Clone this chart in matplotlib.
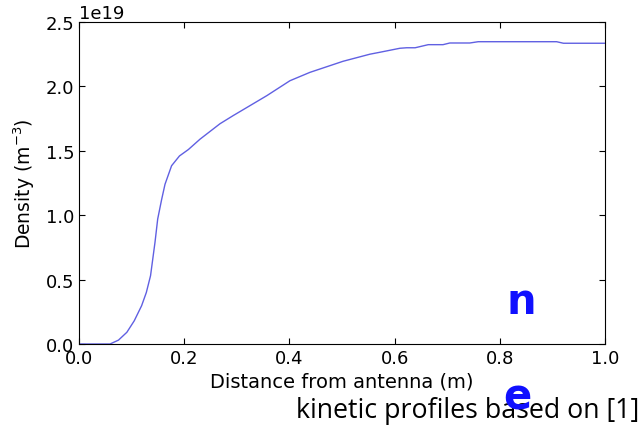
import numpy as np
import matplotlib.pyplot as plt

# distancia desde la antena (m) y densidad (m^-3)
dist = [0.0, 0.03, 0.059, 0.075, 0.091, 0.105, 0.119, 0.128, 0.136, 0.1445, 0.1496,
        0.157, 0.1635, 0.176, 0.191, 0.208, 0.230, 0.268, 0.293, 0.357, 0.401,
        0.439, 0.502, 0.553, 0.572, 0.610, 0.623, 0.639, 0.664, 0.692, 0.705,
        0.743, 0.759, 0.908, 0.921, 1.0]
dens = [0.0, 0.0, 0.0, 0.03, 0.091, 0.18, 0.297, 0.40, 0.53, 0.79, 0.97,
        1.12, 1.24, 1.384, 1.46, 1.51, 1.59, 1.71, 1.773, 1.928, 2.044,
        2.109, 2.195, 2.25, 2.265, 2.296, 2.30, 2.30, 2.324, 2.324, 2.337,
        2.337, 2.347, 2.347, 2.335, 2.335]
dens = np.array(dens) * 1e19

fig = plt.figure(figsize=(6.41, 4.31), dpi=100)
ax = fig.add_axes([79/641, 86/431, 526/641, 322/431])
ax.plot(dist, dens, color='#4444dd', lw=1.0, alpha=0.85)
ax.set_xlim(0, 1.0)
ax.set_ylim(0, 2.5e19)
ax.set_xticks([0.0, 0.2, 0.4, 0.6, 0.8, 1.0])
ax.set_yticks(np.arange(0, 2.51e19, 0.5e19))
ax.tick_params(direction='in', top=True, right=True, labelsize=13, length=4)
ax.yaxis.get_offset_text().set_fontsize(13)
ax.set_xlabel('Distance from antenna (m)', fontsize=14, labelpad=3)
ax.set_ylabel('Density (m$^{-3}$)', fontsize=13.5, labelpad=6)

# texto superpuesto de la diapositiva
fig.text(0.998, 1 - 418/431, 'kinetic profiles based on [1]', ha='right', va='baseline',
         fontsize=19.3, family='Open Sans')
fig.text(521/641, 1 - 302/431, 'n', ha='center', va='center', fontsize=30,
         fontweight='bold', color='#1010ff')
fig.text(517/641, 1 - 398/431, 'e', ha='center', va='center', fontsize=30,
         fontweight='bold', color='#1010ff')

fig.savefig('out.png', dpi=100)
